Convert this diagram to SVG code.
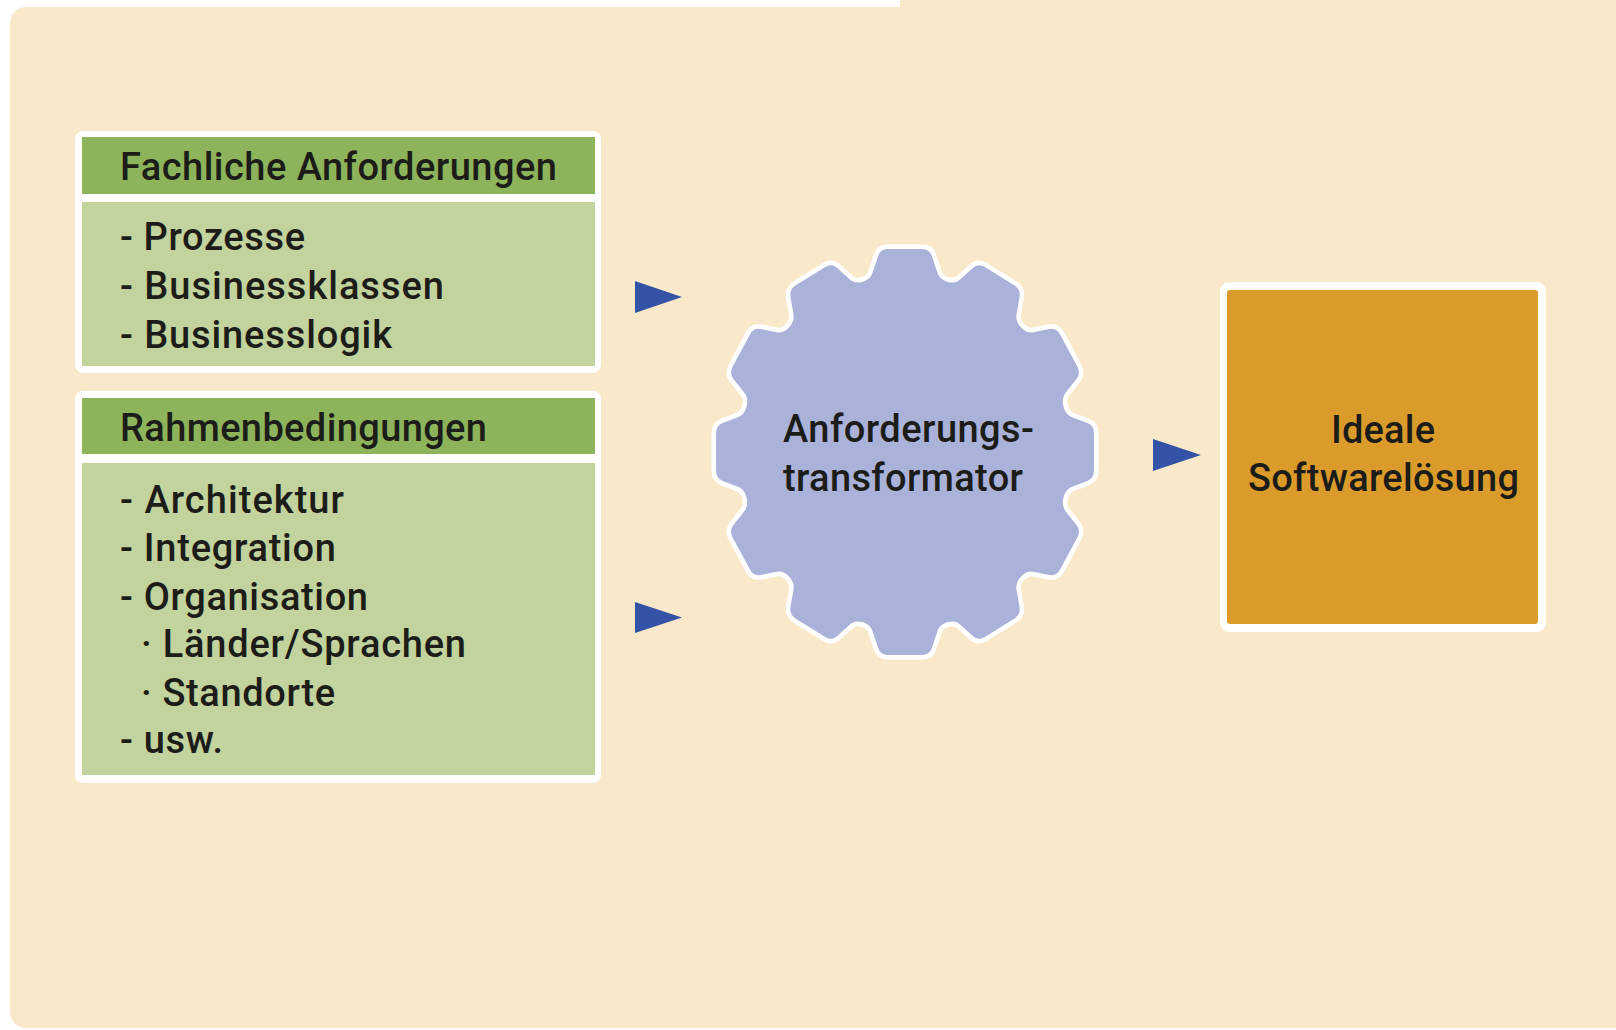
<svg xmlns="http://www.w3.org/2000/svg" xmlns:xlink="http://www.w3.org/1999/xlink" width="1616" height="1030" viewBox="0 0 1616 1030">
  <style>
    .t { font-family: Roboto, "Liberation Sans", "DejaVu Sans", sans-serif; font-weight: 500; font-size: 38px; fill: #1c1c18; }
    .frame { fill: #ffffff; }
    .head { fill: #8db45b; }
    .body { fill: #c3d39d; }
    .arrow { fill: #3553a6; }
  </style>
  <defs>
    <!-- one 30-degree slice of the gear: a tooth with half a rounded notch on each side -->
    <path id="slice" d="M 0,0 L -42.2,-157.4 Q -33,-160 -31,-168 L -26,-182 Q -24,-188 -17,-188 L 17,-188 Q 24,-188 26,-182 L 31,-168 Q 33,-160 42.2,-157.4 Z"/>
    <g id="gearShape">
      <use xlink:href="#slice"/>
      <use xlink:href="#slice" transform="rotate(30)"/>
      <use xlink:href="#slice" transform="rotate(60)"/>
      <use xlink:href="#slice" transform="rotate(90)"/>
      <use xlink:href="#slice" transform="rotate(120)"/>
      <use xlink:href="#slice" transform="rotate(150)"/>
      <use xlink:href="#slice" transform="rotate(180)"/>
      <use xlink:href="#slice" transform="rotate(210)"/>
      <use xlink:href="#slice" transform="rotate(240)"/>
      <use xlink:href="#slice" transform="rotate(270)"/>
      <use xlink:href="#slice" transform="rotate(300)"/>
      <use xlink:href="#slice" transform="rotate(330)"/>
    </g>
  </defs>

  <!-- page and panel -->
  <rect x="0" y="0" width="1616" height="1030" fill="#ffffff"/>
  <rect x="10" y="7" width="1630" height="1021" rx="16" fill="#f9e9ca"/>
  <rect x="900" y="0" width="716" height="30" fill="#f9e9ca"/>

  <!-- requirements box -->
  <g id="fachliche-anforderungen">
    <rect class="frame" x="75" y="131" width="526" height="242" rx="8"/>
    <rect class="head" x="82" y="137" width="513" height="57"/>
    <rect class="body" x="82" y="202" width="513" height="164"/>
    <text class="t" x="120" y="180" textLength="437" lengthAdjust="spacing">Fachliche Anforderungen</text>
    <text class="t" x="120" y="250" textLength="185" lengthAdjust="spacing">- Prozesse</text>
    <text class="t" x="120" y="299" textLength="324" lengthAdjust="spacing">- Businessklassen</text>
    <text class="t" x="120" y="347.5" textLength="272" lengthAdjust="spacing">- Businesslogik</text>
  </g>

  <!-- constraints box -->
  <g id="rahmenbedingungen">
    <rect class="frame" x="75" y="391" width="526" height="392" rx="8"/>
    <rect class="head" x="82" y="398" width="513" height="56"/>
    <rect class="body" x="82" y="463" width="513" height="312"/>
    <text class="t" x="120" y="440.5" textLength="367" lengthAdjust="spacing">Rahmenbedingungen</text>
    <text class="t" x="120" y="512.5" textLength="224" lengthAdjust="spacing">- Architektur</text>
    <text class="t" x="120" y="561" textLength="216" lengthAdjust="spacing">- Integration</text>
    <text class="t" x="120" y="609.5" textLength="248" lengthAdjust="spacing">- Organisation</text>
    <text class="t" x="141" y="657" textLength="325" lengthAdjust="spacing">· Länder/Sprachen</text>
    <text class="t" x="141" y="705.5" textLength="194" lengthAdjust="spacing">· Standorte</text>
    <text class="t" x="120" y="753" textLength="103" lengthAdjust="spacing">- usw.</text>
  </g>

  <!-- transformer gear: white outline layer first, lavender fill on top -->
  <g id="anforderungstransformator">
    <g transform="translate(905,452) scale(1,1.074)">
      <use xlink:href="#gearShape" fill="#ffffff" stroke="#ffffff" stroke-width="11" stroke-linejoin="round"/>
      <use xlink:href="#gearShape" fill="#aab2da" stroke="#aab2da" stroke-width="2" stroke-linejoin="round"/>
    </g>
    <text class="t" x="783" y="442" textLength="251" lengthAdjust="spacing">Anforderungs-</text>
    <text class="t" x="783" y="491" textLength="240" lengthAdjust="spacing">transformator</text>
  </g>

  <!-- result box -->
  <g id="ideale-softwareloesung">
    <rect class="frame" x="1220" y="282" width="326" height="350" rx="9"/>
    <rect x="1227" y="290" width="311" height="334" rx="3" fill="#db9b2b"/>
    <text class="t" x="1331" y="443" textLength="104" lengthAdjust="spacing">Ideale</text>
    <text class="t" x="1248" y="491" textLength="271" lengthAdjust="spacing">Softwarelösung</text>
  </g>

  <!-- connectors -->
  <g id="connectors">
    <polygon class="arrow" points="635,281 682,297 635,313"/>
    <polygon class="arrow" points="635,602 682,617.5 635,633"/>
    <polygon class="arrow" points="1153,439 1201,455 1153,471"/>
  </g>
</svg>
